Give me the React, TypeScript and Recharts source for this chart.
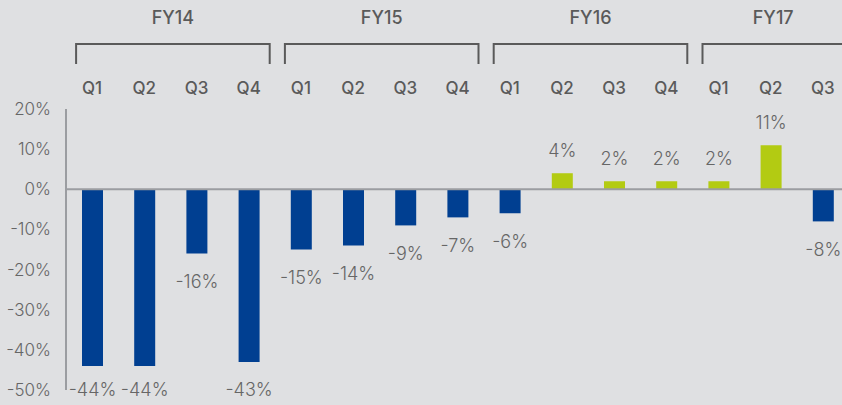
import { BarChart, Bar, XAxis, YAxis, Cell, LabelList, ReferenceLine } from 'recharts';

const fiscalYears = ['FY14', 'FY15', 'FY16', 'FY17'];
const quarterCounts = [4, 4, 4, 3];
const quarterNames = ['Q1', 'Q2', 'Q3', 'Q4'];
const values = [-44, -44, -16, -43, -15, -14, -9, -7, -6, 4, 2, 2, 2, 11, -8];
const yTicks = [-50, -40, -30, -20, -10, 0, 10, 20];

const data = fiscalYears.flatMap((fy, f) =>
  quarterNames.slice(0, quarterCounts[f]).map((q, i) => ({ key: `${fy}-${q}`, fy, q, qi: i, n: quarterCounts[f] })),
).map((d, i) => ({ ...d, value: values[i] }));

const W = 850;
const H = 405;
const Y_AXIS_W = 66;
const TOP = 109;
const BOTTOM = 15;
const RIGHT = 1;
const BAND = (W - Y_AXIS_W - RIGHT) / data.length;

const FONT = 'Inter, "Open Sans", sans-serif';
const BLUE = '#003f91';
const GREEN = '#b3cb12';
const GRID = '#9b9da1';
const TEXT = '#666666';
const DARK = '#5a5a5a';

function QuarterTick(props: any) {
  const { x, payload } = props;
  const d = data[payload.index];
  if (!d) return null;
  const parts = [
    <text key="q" x={x} y={TOP - 21} dy={6} textAnchor="middle" fontFamily={FONT} fontSize={17} fontWeight={500} fill={DARK}>
      {d.q}
    </text>,
  ];
  if (d.qi === 0) {
    const left = x - 16;
    const right = x + (d.n - 1) * BAND + 21;
    parts.push(
      <path key="b" d={`M${left},${TOP - 45} V${TOP - 65} H${right} V${TOP - 45}`} fill="none" stroke={DARK} strokeWidth={2} />,
      <text key="fy" x={(left + right) / 2} y={17} dy={6.5} textAnchor="middle" fontFamily={FONT} fontSize={18} fontWeight={500} fill={DARK}>
        {d.fy}
      </text>,
    );
  }
  return <g>{parts}</g>;
}

function ValueLabel(props: any) {
  const { x, y, width, height, value } = props;
  const top = Math.min(y, y + height);
  const bottom = Math.max(y, y + height);
  const cy = value < 0 ? Math.min(bottom + 28, H - BOTTOM - 1) : top - 23;
  return (
    <text x={x + width / 2} y={cy} dy={6.5} textAnchor="middle" fontFamily={FONT} fontSize={18} fontWeight={300} fill={TEXT}>
      {`${value}%`}
    </text>
  );
}

export default function App() {
  return (
    <div style={{ position: 'absolute', left: 0, top: 0, width: 842, height: 405, overflow: 'hidden', background: '#dfe0e2' }}>
      <BarChart width={W} height={H} data={data} margin={{ top: 0, right: RIGHT, left: 0, bottom: BOTTOM }}>
        <XAxis
          dataKey="key"
          orientation="top"
          height={TOP}
          axisLine={false}
          tickLine={false}
          interval={0}
          tick={<QuarterTick />}
        />
        <YAxis
          width={Y_AXIS_W}
          domain={[-50, 20]}
          ticks={yTicks}
          tickFormatter={(v: number) => `${v}%`}
          axisLine={{ stroke: GRID, strokeWidth: 2 }}
          tickLine={false}
          tickSize={0}
          tickMargin={15}
          tick={{ fill: TEXT, fontSize: 17, fontFamily: FONT, fontWeight: 300 }}
        />
        <ReferenceLine y={0} stroke={GRID} strokeWidth={2} />
        <Bar dataKey="value" barSize={21} isAnimationActive={false}>
          {data.map((d) => (
            <Cell key={d.key} fill={d.value < 0 ? BLUE : GREEN} />
          ))}
          <LabelList dataKey="value" content={<ValueLabel />} />
        </Bar>
      </BarChart>
    </div>
  );
}
